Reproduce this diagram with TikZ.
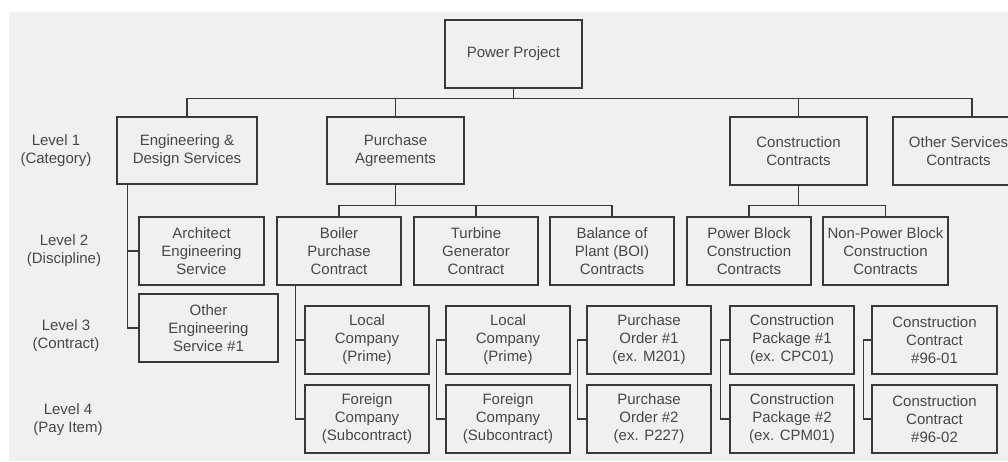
\documentclass[tikz,border=0pt]{standalone}
\usepackage{fontspec}
\setmainfont{Liberation Sans}
\begin{document}
\begin{tikzpicture}[x=1pt,y=-1pt,
  ink/.style={draw=black!78,line width=1.2pt},
  box/.style={ink,fill=none,rectangle,inner sep=0pt,align=center,
    text=black!72,font=\fontsize{15}{18}\selectfont},
  lvl/.style={align=center,text=black!72,font=\fontsize{15}{18}\selectfont},
  wire/.style={ink}]
% page and scanned sheet
\useasboundingbox (0,0) rectangle (1008,461);
\fill[white] (0,0) rectangle (1008,461);
\fill[black!6] (9,12) rectangle (1008,461);

% level captions
\node[lvl] (l1) at (56,151) {Level 1\\(Category)};
\node[lvl] (l2) at (64,251) {Level 2\\(Discipline)};
\node[lvl] (l3) at (66,336) {Level 3\\(Contract)};
\node[lvl] (l4) at (68,420) {Level 4\\(Pay Item)};

% root
\node[box,minimum width=137,minimum height=68] (power) at (513.5,54) {Power Project};

% level 1
\node[box,minimum width=140,minimum height=67] (eng) at (187,150.5) {Engineering \&\\Design Services};
\node[box,minimum width=137,minimum height=67] (pa) at (395.5,150.5) {Purchase\\Agreements};
\node[box,minimum width=137,minimum height=68] (cc) at (798.5,151) {Construction\\Contracts};
\node[box,minimum width=131,minimum height=68] (os) at (958.5,151) {Other Services\\Contracts};

% level 2
\node[box,minimum width=125,minimum height=68] (arch) at (201.5,251) {Architect\\Engineering\\Service};
\node[box,minimum width=124,minimum height=68] (boiler) at (339,251) {Boiler\\Purchase\\Contract};
\node[box,minimum width=124,minimum height=68] (turb) at (476,251) {Turbine\\Generator\\Contract};
\node[box,minimum width=124,minimum height=68] (bal) at (612,251) {Balance of\\Plant (BOI)\\Contracts};
\node[box,minimum width=124,minimum height=68] (pb) at (749,251) {Power Block\\Construction\\Contracts};
\node[box,minimum width=125,minimum height=68] (npb) at (885.5,251) {Non-Power Block\\Construction\\Contracts};

% level 3
\node[box,minimum width=139,minimum height=68] (oes) at (208.5,328) {Other\\Engineering\\Service \#1};
\node[box,minimum width=124,minimum height=68] (lc1) at (367,340) {Local\\Company\\(Prime)};
\node[box,minimum width=124,minimum height=68] (lc2) at (508,340) {Local\\Company\\(Prime)};
\node[box,minimum width=124,minimum height=68] (po1) at (649,340) {Purchase\\Order \#1\\(ex. M201)};
\node[box,minimum width=124,minimum height=68] (cp1) at (792,340) {Construction\\Package \#1\\(ex. CPC01)};
\node[box,minimum width=125,minimum height=68] (ct1) at (934.5,340) {Construction\\Contract\\\#96-01};

% level 4
\node[box,minimum width=124,minimum height=68] (fc1) at (367,419) {Foreign\\Company\\(Subcontract)};
\node[box,minimum width=124,minimum height=68] (fc2) at (508,419) {Foreign\\Company\\(Subcontract)};
\node[box,minimum width=124,minimum height=68] (po2) at (649,419) {Purchase\\Order \#2\\(ex. P227)};
\node[box,minimum width=124,minimum height=68] (cp2) at (792,419) {Construction\\Package \#2\\(ex. CPM01)};
\node[box,minimum width=125,minimum height=68] (ct2) at (934.5,419) {Construction\\Contract\\\#96-02};

% top bus
\coordinate (bus) at ([yshift=-10pt]power.south);
\coordinate (osin) at ([xshift=13.5pt]os.north);
\draw[wire] (power.south) -- (bus);
\draw[wire] (eng.north) |- (bus);
\draw[wire] (pa.north) -- (pa.north |- bus);
\draw[wire] (cc.north) -- (cc.north |- bus);
\draw[wire] (osin) |- (bus);

% purchase agreements bus
\coordinate (pabus) at ([yshift=-21pt]pa.south);
\draw[wire] (pa.south) -- (pabus);
\draw[wire] (boiler.north) |- (pabus);
\draw[wire] (bal.north) |- (pabus);
\draw[wire] (turb.north) -- (turb.north |- pabus);

% construction contracts bus
\coordinate (ccbus) at ([yshift=-20pt]cc.south);
\draw[wire] (cc.south) -- (ccbus);
\draw[wire] (pb.north) |- (ccbus);
\draw[wire] (npb.north) |- (ccbus);

% engineering branch
\coordinate (engdn) at ([xshift=11pt]eng.south west);
\draw[wire] (engdn) |- (oes.west);
\draw[wire] (engdn |- arch.west) -- (arch.west);

% boiler branch
\coordinate (boildn) at ([xshift=19pt]boiler.south west);
\draw[wire] (boildn) |- (fc1.west);
\draw[wire] (boildn |- lc1.west) -- (lc1.west);

% bracket pairs
\draw[wire] (lc2.west) -- ++(-9,0) |- (fc2.west);
\draw[wire] (po1.west) -- ++(-9,0) |- (po2.west);
\draw[wire] (cp1.west) -- ++(-9,0) |- (cp2.west);
\draw[wire] (ct1.west) -- ++(-8,0) |- (ct2.west);
\end{tikzpicture}
\end{document}
